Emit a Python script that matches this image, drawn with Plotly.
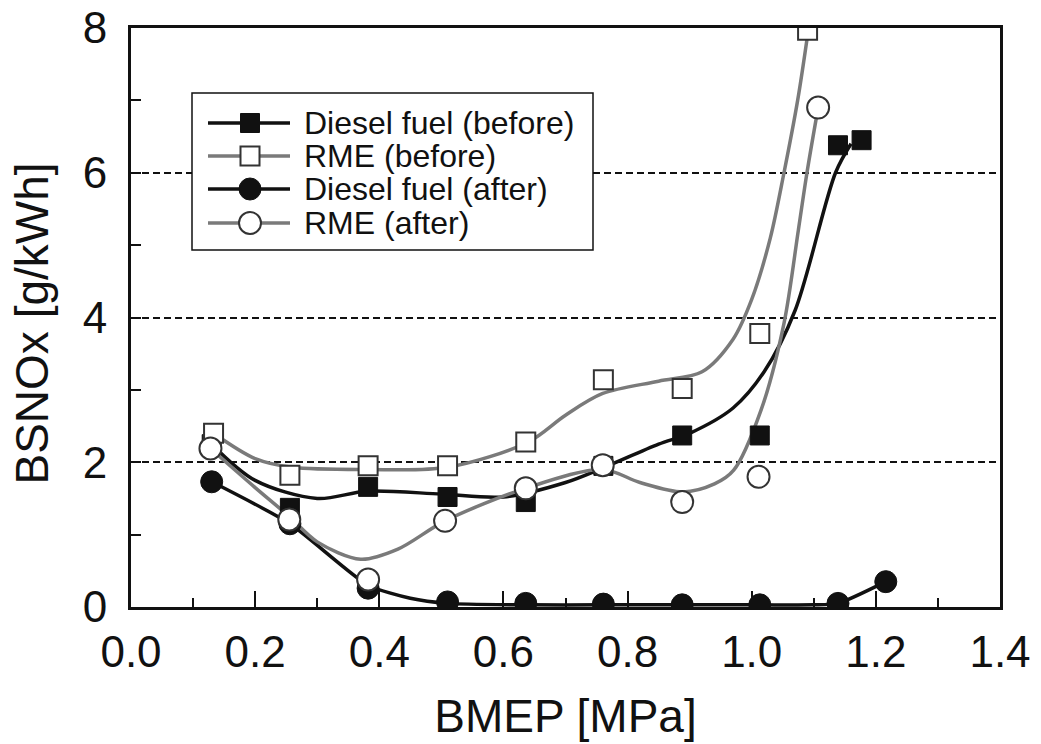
import plotly.graph_objects as go

# ---- measured marker data ----
diesel_before_x = [0.13, 0.256, 0.382, 0.51, 0.636, 0.761, 0.888, 1.013, 1.139, 1.177]
diesel_before_y = [2.25, 1.37, 1.66, 1.52, 1.45, 1.95, 2.37, 2.37, 6.38, 6.45]

rme_before_x = [0.133, 0.256, 0.382, 0.51, 0.636, 0.761, 0.888, 1.013, 1.09]
rme_before_y = [2.40, 1.82, 1.95, 1.95, 2.28, 3.14, 3.02, 3.78, 7.97]

diesel_after_x = [0.13, 0.256, 0.382, 0.51, 0.636, 0.761, 0.888, 1.013, 1.139, 1.216]
diesel_after_y = [1.73, 1.15, 0.26, 0.07, 0.05, 0.04, 0.03, 0.03, 0.05, 0.35]

rme_after_x = [0.128, 0.255, 0.382, 0.506, 0.636, 0.76, 0.888, 1.011, 1.107]
rme_after_y = [2.19, 1.21, 0.38, 1.19, 1.64, 1.96, 1.45, 1.80, 6.9]

# ---- fitted curves ----
diesel_before_fit_x = [0.13, 0.2, 0.3, 0.38, 0.5, 0.6, 0.7, 0.76, 0.85, 0.9, 0.97, 1.02, 1.07, 1.135, 1.16]
diesel_before_fit_y = [2.25, 1.75, 1.5, 1.6, 1.56, 1.52, 1.72, 1.92, 2.25, 2.4, 2.75, 3.25, 4.1, 6.0, 6.4]

rme_before_fit_x = [0.133, 0.2, 0.26, 0.38, 0.51, 0.64, 0.7, 0.76, 0.85, 0.92, 0.97, 1.0, 1.03, 1.052, 1.074, 1.09]
rme_before_fit_y = [2.40, 2.05, 1.93, 1.9, 1.93, 2.28, 2.65, 2.95, 3.12, 3.25, 3.7, 4.25, 5.1, 6.0, 7.0, 7.9]

diesel_after_fit_x = [0.13, 0.256, 0.382, 0.45, 0.51, 0.636, 0.761, 0.888, 1.013, 1.1, 1.139, 1.216]
diesel_after_fit_y = [1.73, 1.15, 0.30, 0.12, 0.05, 0.03, 0.03, 0.03, 0.03, 0.03, 0.05, 0.35]

rme_after_fit_x = [0.128, 0.2, 0.255, 0.3, 0.37, 0.43, 0.506, 0.636, 0.76, 0.82, 0.889, 0.94, 0.971, 1.015, 1.052, 1.075, 1.089, 1.107]
rme_after_fit_y = [2.19, 1.65, 1.25, 0.9, 0.66, 0.8, 1.19, 1.64, 1.9, 1.72, 1.59, 1.7, 1.89, 2.72, 3.92, 5.2, 6.0, 6.9]

names = ["Diesel fuel (before)", "RME (before)", "Diesel fuel (after)", "RME (after)"]

BLACK = "#111111"
GRAY = "#7a7a7a"
EDGE = "#333333"
FONT = "Liberation Sans, Arial, sans-serif"

W, H = 1041, 744
ML, MR, MT, MB = 131, 41, 28, 137
PW, PH = W - ML - MR, H - MT - MB


def px(xp):
    return (xp - ML) / PW


def py(yp):
    return (H - MB - yp) / PH


fig = go.Figure()

curves = [
    (diesel_before_fit_x, diesel_before_fit_y, BLACK, 0.9),
    (rme_before_fit_x, rme_before_fit_y, GRAY, 0.9),
    (diesel_after_fit_x, diesel_after_fit_y, BLACK, 0.6),
    (rme_after_fit_x, rme_after_fit_y, GRAY, 0.9),
]
for cx, cy, col, sm in curves:
    fig.add_trace(go.Scatter(x=cx, y=cy, mode="lines",
                             line=dict(color=col, width=3.5, shape="spline", smoothing=sm),
                             showlegend=False, hoverinfo="skip"))

mk = [
    dict(symbol="square", size=19, color=BLACK, line=dict(color=BLACK, width=1)),
    dict(symbol="square", size=19, color="white", line=dict(color=EDGE, width=2)),
    dict(symbol="circle", size=22, color=BLACK, line=dict(color=BLACK, width=1)),
    dict(symbol="circle", size=22, color="white", line=dict(color=EDGE, width=2)),
]
pts = [
    (diesel_before_x, diesel_before_y, 0),
    (diesel_after_x, diesel_after_y, 2),
    (rme_before_x, rme_before_y, 1),
    (rme_after_x, rme_after_y, 3),
]
for xs, ys, i in pts:
    fig.add_trace(go.Scatter(x=xs, y=ys, mode="markers", marker=mk[i], showlegend=False, name=names[i]))

# ---- hand-built legend (box, line samples, symbols, labels) ----
shapes = []
shapes.append(dict(type="rect", xref="paper", yref="paper", x0=px(192), x1=px(593), y0=py(250), y1=py(93),
                   fillcolor="white", line=dict(color=BLACK, width=1.5), layer="above"))
row_y = [123, 156, 189, 223]
line_cols = [BLACK, GRAY, BLACK, GRAY]
for i, ry in enumerate(row_y):
    shapes.append(dict(type="line", xref="paper", yref="paper", x0=px(208), x1=px(290), y0=py(ry), y1=py(ry),
                       line=dict(color=line_cols[i], width=3.5), layer="above"))
for i, ry in enumerate(row_y):
    m = mk[i]
    half = 9.5 if m["symbol"] == "square" else 11
    shapes.append(dict(type="rect" if m["symbol"] == "square" else "circle",
                       xref="paper", yref="paper", xsizemode="pixel", ysizemode="pixel",
                       xanchor=px(250), yanchor=py(ry), x0=-half, x1=half, y0=-half, y1=half,
                       fillcolor=m["color"], line=dict(color=m["line"]["color"], width=m["line"]["width"]),
                       layer="above"))
annotations = []
for i, ry in enumerate(row_y):
    annotations.append(dict(xref="paper", yref="paper", x=px(302), y=py(ry), xanchor="left", yanchor="middle",
                            text=names[i], showarrow=False, font=dict(size=32, family=FONT, color=BLACK)))
annotations.append(dict(xref="paper", yref="paper", x=px(31), y=py(323.5), xanchor="center", yanchor="middle",
                        text="BSNOx [g/kWh]", textangle=-90, showarrow=False,
                        font=dict(size=46, family=FONT, color=BLACK)))

fig.update_layout(
    width=W, height=H,
    margin=dict(l=ML, r=MR, t=MT, b=MB),
    plot_bgcolor="white", paper_bgcolor="white",
    font=dict(family=FONT, color=BLACK),
    showlegend=False,
    shapes=shapes,
    annotations=annotations,
)
fig.update_xaxes(
    range=[0, 1.4], dtick=0.2, tick0=0, tickformat=".1f", automargin=False,
    showline=True, linecolor=BLACK, linewidth=3, mirror=True,
    ticks="inside", ticklen=16, tickwidth=2, tickcolor=BLACK,
    minor=dict(dtick=0.1, ticks="inside", ticklen=9, tickwidth=2, tickcolor=BLACK),
    showgrid=False, zeroline=False,
    tickfont=dict(size=44, family=FONT), ticklabelstandoff=4,
    title=dict(text="BMEP [MPa]", font=dict(size=46, family=FONT), standoff=26),
)
fig.update_yaxes(
    range=[0, 8], dtick=2, tick0=0, automargin=False,
    showline=True, linecolor=BLACK, linewidth=3, mirror=True,
    ticks="inside", ticklen=10, tickwidth=2, tickcolor=BLACK,
    minor=dict(dtick=1, ticks="inside", ticklen=10, tickwidth=2, tickcolor=BLACK),
    showgrid=True, gridcolor=BLACK, gridwidth=1.5, griddash="7px,4px",
    zeroline=False,
    tickfont=dict(size=44, family=FONT), ticklabelstandoff=12,
)

fig.write_html("out.html")
